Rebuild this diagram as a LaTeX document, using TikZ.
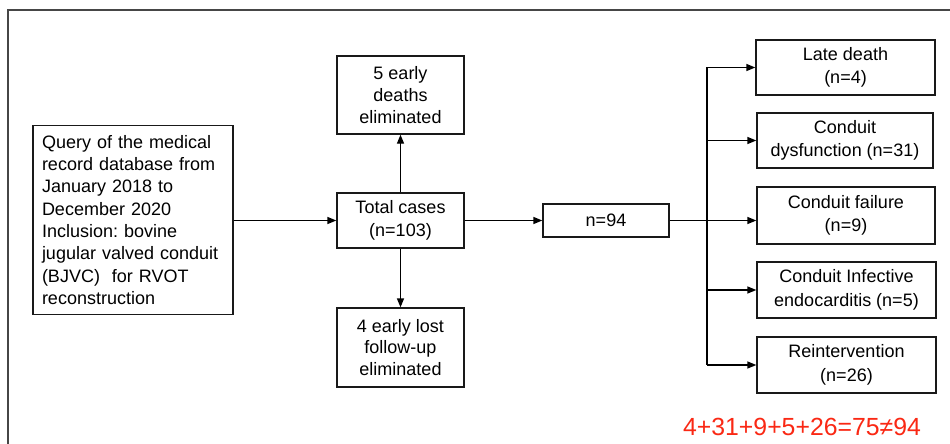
\documentclass[tikz,border=0pt]{standalone}
\usepackage{fontspec}
\setmainfont{Liberation Sans}
\usetikzlibrary{arrows.meta}
\frenchspacing
\definecolor{framegray}{RGB}{70,70,70}
\definecolor{notered}{RGB}{250,40,20}
\tikzset{
  box/.style={draw=black!90, line width=1.3pt, align=center, inner sep=2pt,
    font=\fontsize{18}{23.5}\selectfont},
  arr/.style={line width=1.3pt, -{Triangle[length=9pt,width=7pt]}},
  conn/.style={line width=1.3pt},
  frameline/.style={draw=framegray, line width=1.8pt}
}
\begin{document}
\begin{tikzpicture}[x=1pt,y=-1pt]
\useasboundingbox (0,0) rectangle (950,444);
\fill[white] (0,0) rectangle (950,444);
% frame
\draw[frameline] (8,444) -- (8,10) -- (950,10);
% nodes
\node[box, minimum width=200, minimum height=189, text width=182, align=left,
      font=\fontsize{18}{22.3}\selectfont] (query) at (133,220)
 {Query of the medical\\record database from\\January 2018 to\\December 2020\\Inclusion: bovine\\jugular valved conduit\\(BJVC)\ \ for RVOT\\reconstruction};
\node[box, minimum width=127, minimum height=55] (total) at (400.5,220.5) {Total cases\\(n=103)};
\node[box, minimum width=127, minimum height=78, font=\fontsize{18}{21.8}\selectfont] (deaths) at (400.5,95) {5 early\\deaths\\eliminated};
\node[box, minimum width=127, minimum height=79, font=\fontsize{18}{21.8}\selectfont] (lost) at (400.5,347.5) {4 early lost\\follow-up\\eliminated};
\node[box, minimum width=126, minimum height=33] (n94) at (606,220.5) {n=94};
\node[box, minimum width=179, minimum height=55] (late) at (845.5,67.5) {Late death\\(n=4)};
\node[box, minimum width=176, minimum height=55] (dysf) at (845,140.5) {Conduit\\dysfunction (n=31)};
\node[box, minimum width=178, minimum height=57] (fail) at (846,215.5) {Conduit failure\\(n=9)};
\node[box, minimum width=179, minimum height=56] (inf) at (846.5,290) {Conduit Infective\\endocarditis (n=5)};
\node[box, minimum width=179, minimum height=56] (rein) at (846.5,365) {Reintervention\\(n=26)};
\node[text=notered, font=\fontsize{24.8}{28}\selectfont] (sum) at (802,427) {4+31+9+5+26=75≠94};
% connectors
\draw[arr] (query.east |- total.west) -- (total.west);
\draw[arr] (total.north) -- (deaths.south);
\draw[arr] (total.south) -- (lost.north);
\draw[arr] (total.east) -- (n94.west);
\coordinate (trunk) at (707,0);
\draw[conn] (trunk |- late.west) -- (trunk |- rein.west);
\draw[arr] (n94.east) -- (fail.west |- n94.east);
\draw[arr] (trunk |- late.west) -- (late.west);
\draw[arr] (trunk |- dysf.west) -- (dysf.west);
\draw[arr] (trunk |- inf.west) -- (inf.west);
\draw[arr] (trunk |- rein.west) -- (rein.west);
\end{tikzpicture}
\end{document}
